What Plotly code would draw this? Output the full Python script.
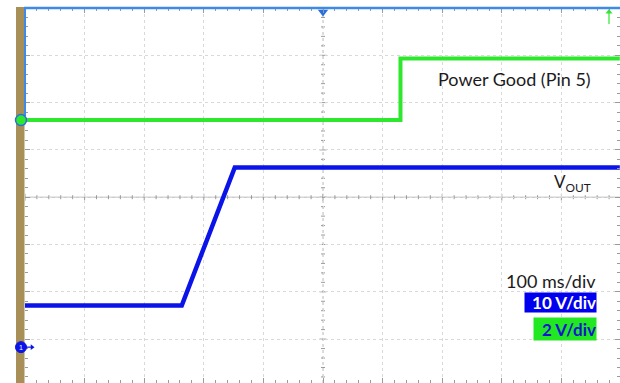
import plotly.graph_objects as go

# ---- captured waveform data -------------------------------------------
# Channel 1: output voltage ramp (V) vs time (ms)
time_vout = [0, 263, 352, 998]
vout = [8.8, 8.8, 38.0, 38.0]
# Channel 2: Power Good pin (V) vs time (ms)
time_pg = [0, 630, 630, 998]
power_good = [0, 0, 2.6, 2.6]

# scope settings
ms_per_div = 100
vout_per_div = 10
pg_per_div = 2
vout_ground_div = -3.17   # channel 1 ground marker, divisions from centre
pg_ground_div = 1.63      # channel 2 ground marker, divisions from centre

# ---- screen geometry ----------------------------------------------------
W, H = 620, 383
L, T = 25, 8
PW, PH = W - L, H - T
DIV_X, DIV_Y = 59.6, 47.3
CENTER_Y = 197.2

x_max = PW / DIV_X * ms_per_div
div_top = (CENTER_Y - T) / DIV_Y
div_bot = -(H - CENTER_Y) / DIV_Y


def px(xp):
    return (xp - L) / PW


def py(yp):
    return (H - yp) / PH


def ms_at(xp):
    return (xp - L) / DIV_X * ms_per_div


def div_at(yp):
    return (CENTER_Y - yp) / DIV_Y


def ground_py(ground_div):
    return py(CENTER_Y - ground_div * DIV_Y)


BLUE = "#0b14e8"
GREEN = "#2ee82e"
FRAME_BLUE = "#3d8ae8"

fig = go.Figure()

# channel 1 (blue)
fig.add_trace(go.Scatter(x=time_vout, y=vout, yaxis="y2", mode="lines",
                         line=dict(color=BLUE, width=4.5),
                         showlegend=False))
# channel 2 (green)
fig.add_trace(go.Scatter(x=time_pg, y=power_good, yaxis="y3", mode="lines",
                         line=dict(color=GREEN, width=4),
                         showlegend=False))

# trigger position marker at top centre
fig.add_trace(go.Scatter(x=[5 * ms_per_div], y=[div_at(12)], mode="markers",
                         marker=dict(symbol="triangle-down", size=9, color="#2a6fe0"),
                         cliponaxis=False, showlegend=False, hoverinfo="skip"))
# channel 2 trigger level arrowhead (top right) and channel 1 offset arrowhead
fig.add_trace(go.Scatter(x=[ms_at(609)], y=[div_at(12)], mode="markers",
                         marker=dict(symbol="triangle-up", size=6, color=GREEN),
                         cliponaxis=False, showlegend=False, hoverinfo="skip"))
fig.add_trace(go.Scatter(x=[ms_at(32)], y=[div_at(CENTER_Y - vout_ground_div * DIV_Y)],
                         mode="markers",
                         marker=dict(symbol="triangle-right", size=5, color=BLUE),
                         cliponaxis=False, showlegend=False, hoverinfo="skip"))

shapes = []
# instrument side bar and blue frame edges
shapes.append(dict(type="rect", xref="paper", yref="paper",
                   x0=px(16), x1=px(24.5), y0=0, y1=py(T - 1),
                   fillcolor="#a88f58", line=dict(width=0), layer="above"))
shapes.append(dict(type="line", xref="paper", yref="paper",
                   x0=px(24), x1=1, y0=py(T), y1=py(T),
                   line=dict(color=FRAME_BLUE, width=2.5), layer="above"))
shapes.append(dict(type="line", xref="paper", yref="paper",
                   x0=px(25), x1=px(25), y0=py(T), y1=py(116),
                   line=dict(color=FRAME_BLUE, width=2), layer="above"))

# arrow shafts
shapes.append(dict(type="line", xref="paper", yref="paper",
                   x0=px(609), x1=px(609), y0=py(24), y1=py(13),
                   line=dict(color=GREEN, width=1.2), layer="above"))
shapes.append(dict(type="line", xref="paper", yref="paper",
                   x0=px(26), x1=px(31),
                   y0=ground_py(vout_ground_div), y1=ground_py(vout_ground_div),
                   line=dict(color=BLUE, width=1.2), layer="above"))

# channel ground markers on the left edge
shapes.append(dict(type="circle", xref="paper", yref="paper",
                   xsizemode="pixel", ysizemode="pixel",
                   xanchor=px(21), yanchor=ground_py(pg_ground_div),
                   x0=-5.5, x1=5.5, y0=-5.5, y1=5.5,
                   fillcolor=GREEN, line=dict(color="#2a6fe0", width=1.5),
                   layer="above"))
shapes.append(dict(type="circle", xref="paper", yref="paper",
                   xsizemode="pixel", ysizemode="pixel",
                   xanchor=px(21), yanchor=ground_py(vout_ground_div),
                   x0=-5.5, x1=5.5, y0=-5.5, y1=5.5,
                   fillcolor=BLUE, line=dict(color=BLUE, width=1),
                   layer="above"))

# centre crosshair with tick marks
axis_grey = "#9a9a9a"
shapes.append(dict(type="line", xref="x", yref="y", x0=0, x1=x_max, y0=0, y1=0,
                   line=dict(color="#b4b4b4", width=1), layer="below"))
shapes.append(dict(type="line", xref="x", yref="y", x0=5 * ms_per_div, x1=5 * ms_per_div,
                   y0=div_bot, y1=div_top,
                   line=dict(color="#bdbdbd", width=1, dash="dot"), layer="below"))
for k in range(0, 51):
    half = 3.5 if k % 5 == 0 else 2
    shapes.append(dict(type="line", xref="x", yref="y", ysizemode="pixel", yanchor=0,
                       x0=k * ms_per_div / 5, x1=k * ms_per_div / 5, y0=-half, y1=half,
                       line=dict(color=axis_grey, width=1), layer="below"))
for k in range(-20, 21):
    half = 3.5 if k % 5 == 0 else 2
    shapes.append(dict(type="line", xref="x", yref="y", xsizemode="pixel",
                       xanchor=5 * ms_per_div,
                       x0=-half, x1=half, y0=k / 5, y1=k / 5,
                       line=dict(color=axis_grey, width=1), layer="below"))
fig.update_layout(shapes=shapes)

# channel 1 marker number
fig.add_annotation(x=px(21), y=ground_py(vout_ground_div), xref="paper", yref="paper",
                   xanchor="center", yanchor="middle", showarrow=False, text="1",
                   font=dict(family="Arial", size=7, color="white"))

label_font = "Lato"
text_color = "#1c1a1b"
fig.add_annotation(x=px(593), y=py(79), xref="paper", yref="paper",
                   xanchor="right", yanchor="middle", showarrow=False,
                   text="Power Good (Pin 5)",
                   font=dict(family=label_font, size=18, color=text_color))
fig.add_annotation(x=px(593), y=py(183), xref="paper", yref="paper",
                   xanchor="right", yanchor="middle", showarrow=False,
                   text="V<sub>OUT</sub>",
                   font=dict(family=label_font, size=17, color=text_color))
fig.add_annotation(x=px(598), y=py(281), xref="paper", yref="paper",
                   xanchor="right", yanchor="middle", showarrow=False,
                   text=f"{ms_per_div} ms/div",
                   font=dict(family=label_font, size=18, color=text_color))
fig.add_annotation(x=px(597), y=py(302.5), xref="paper", yref="paper",
                   xanchor="right", yanchor="middle", showarrow=False,
                   text=f"<b>{vout_per_div} V/div</b>", bgcolor="#0000ee",
                   width=71, height=19, align="right", borderpad=0,
                   font=dict(family=label_font, size=17, color="white"))
fig.add_annotation(x=px(597), y=py(328.5), xref="paper", yref="paper",
                   xanchor="right", yanchor="middle", showarrow=False,
                   text=f"<b>{pg_per_div} V/div</b>", bgcolor="#22e822",
                   width=62, height=22, align="right", borderpad=0,
                   font=dict(family=label_font, size=17, color="#1414d0"))

grid = dict(showgrid=True, gridcolor="#d9d9d9", griddash="dot", gridwidth=1,
            zeroline=False, showticklabels=False, ticks="inside", ticklen=5,
            tickcolor=axis_grey, mirror="ticks", showline=False, fixedrange=True)

fig.update_layout(
    width=W, height=H,
    margin=dict(l=L, r=0, t=T, b=0),
    paper_bgcolor="white", plot_bgcolor="white",
    xaxis=dict(range=[0, x_max], dtick=ms_per_div, tick0=0,
               minor=dict(dtick=ms_per_div / 5, ticks="inside", ticklen=3,
                          tickcolor=axis_grey, showgrid=False),
               **grid),
    yaxis=dict(range=[div_bot, div_top], dtick=1, tick0=0,
               minor=dict(dtick=0.2, ticks="inside", ticklen=3,
                          tickcolor=axis_grey, showgrid=False),
               **grid),
    yaxis2=dict(overlaying="y", visible=False, fixedrange=True,
                range=[(div_bot - vout_ground_div) * vout_per_div,
                       (div_top - vout_ground_div) * vout_per_div]),
    yaxis3=dict(overlaying="y", visible=False, fixedrange=True,
                range=[(div_bot - pg_ground_div) * pg_per_div,
                       (div_top - pg_ground_div) * pg_per_div]),
    showlegend=False,
)

fig.write_html("out.html", config={"displayModeBar": False})
